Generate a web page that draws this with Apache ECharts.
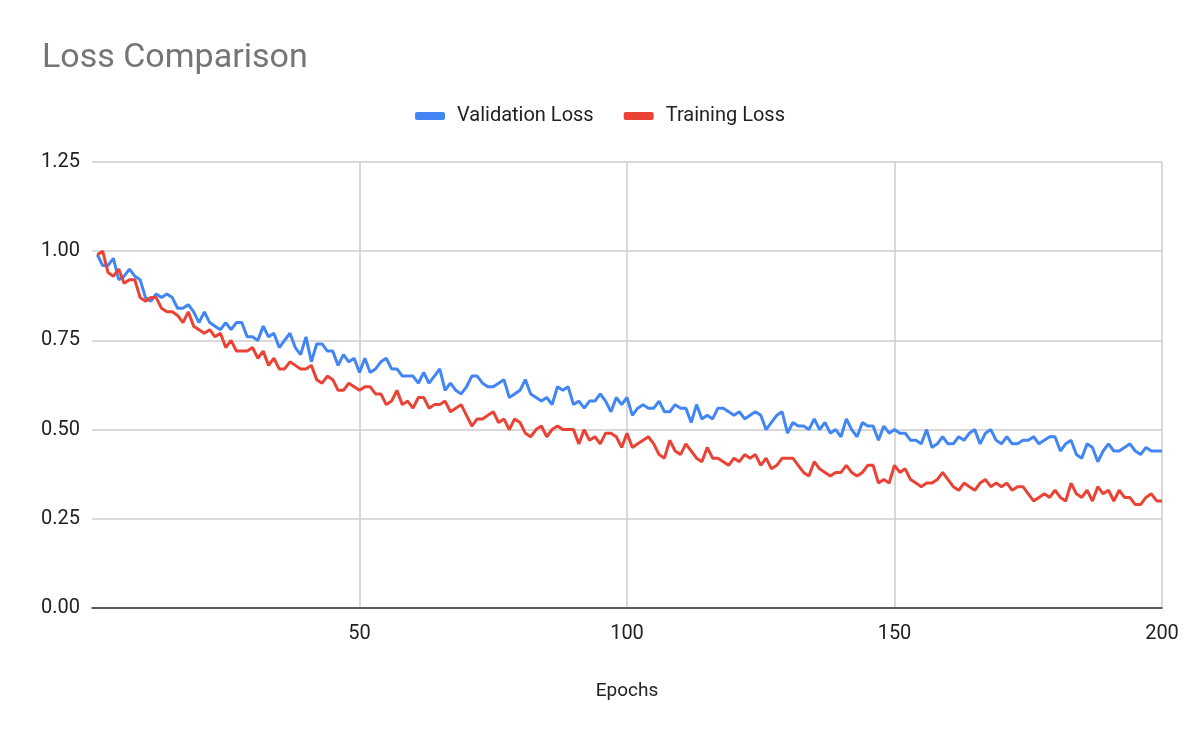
<!DOCTYPE html>
<html>
<head>
<meta charset="utf-8">
<script src="https://cdn.jsdelivr.net/npm/echarts@6/dist/echarts.min.js"></script>
<style>html,body{margin:0;padding:0;background:#fff}#c{width:1200px;height:742px}</style>
</head>
<body>
<div id="c"></div>
<script>
var validation = [
  0.99,0.96,0.96,0.98,0.92,0.93,0.95,0.93,0.92,0.87,
  0.86,0.88,0.87,0.88,0.87,0.84,0.84,0.85,0.83,0.80,
  0.83,0.80,0.79,0.78,0.80,0.78,0.80,0.80,0.76,0.76,
  0.75,0.79,0.76,0.77,0.73,0.75,0.77,0.73,0.71,0.76,
  0.69,0.74,0.74,0.72,0.72,0.68,0.71,0.69,0.70,0.66,
  0.70,0.66,0.67,0.69,0.70,0.67,0.67,0.65,0.65,0.65,
  0.63,0.66,0.63,0.65,0.67,0.61,0.63,0.61,0.60,0.62,
  0.65,0.65,0.63,0.62,0.62,0.63,0.64,0.59,0.60,0.61,
  0.64,0.60,0.59,0.58,0.59,0.57,0.62,0.61,0.62,0.57,
  0.58,0.56,0.58,0.58,0.60,0.58,0.55,0.59,0.57,0.59,
  0.54,0.56,0.57,0.56,0.56,0.58,0.55,0.55,0.57,0.56,
  0.56,0.52,0.57,0.53,0.54,0.53,0.56,0.56,0.55,0.54,
  0.55,0.53,0.54,0.55,0.54,0.50,0.52,0.54,0.55,0.49,
  0.52,0.51,0.51,0.50,0.53,0.50,0.52,0.49,0.50,0.48,
  0.53,0.50,0.48,0.52,0.51,0.51,0.47,0.51,0.49,0.50,
  0.49,0.49,0.47,0.47,0.46,0.50,0.45,0.46,0.48,0.46,
  0.46,0.48,0.47,0.49,0.50,0.46,0.49,0.50,0.47,0.46,
  0.48,0.46,0.46,0.47,0.47,0.48,0.46,0.47,0.48,0.48,
  0.44,0.46,0.47,0.43,0.42,0.46,0.45,0.41,0.44,0.46,
  0.44,0.44,0.45,0.46,0.44,0.43,0.45,0.44,0.44,0.44
];
var training = [
  0.99,1.00,0.94,0.93,0.95,0.91,0.92,0.92,0.87,0.86,
  0.87,0.87,0.84,0.83,0.83,0.82,0.80,0.83,0.79,0.78,
  0.77,0.78,0.76,0.77,0.73,0.75,0.72,0.72,0.72,0.73,
  0.70,0.72,0.68,0.70,0.67,0.67,0.69,0.68,0.67,0.67,
  0.68,0.64,0.63,0.65,0.64,0.61,0.61,0.63,0.62,0.61,
  0.62,0.62,0.60,0.60,0.57,0.58,0.61,0.57,0.58,0.56,
  0.59,0.59,0.56,0.57,0.57,0.58,0.55,0.56,0.57,0.54,
  0.51,0.53,0.53,0.54,0.55,0.52,0.53,0.50,0.53,0.52,
  0.49,0.48,0.50,0.51,0.48,0.50,0.51,0.50,0.50,0.50,
  0.46,0.50,0.47,0.48,0.46,0.49,0.49,0.48,0.45,0.49,
  0.45,0.46,0.47,0.48,0.46,0.43,0.42,0.47,0.44,0.43,
  0.46,0.44,0.42,0.41,0.45,0.42,0.42,0.41,0.40,0.42,
  0.41,0.43,0.42,0.43,0.40,0.42,0.39,0.40,0.42,0.42,
  0.42,0.40,0.38,0.37,0.41,0.39,0.38,0.37,0.38,0.38,
  0.40,0.38,0.37,0.38,0.40,0.40,0.35,0.36,0.35,0.40,
  0.38,0.39,0.36,0.35,0.34,0.35,0.35,0.36,0.38,0.36,
  0.34,0.33,0.35,0.34,0.33,0.35,0.36,0.34,0.35,0.34,
  0.35,0.33,0.34,0.34,0.32,0.30,0.31,0.32,0.31,0.33,
  0.31,0.30,0.35,0.32,0.31,0.33,0.30,0.34,0.32,0.33,
  0.30,0.33,0.31,0.31,0.29,0.29,0.31,0.32,0.30,0.30
];
var seriesNames = ['Validation Loss', 'Training Loss'];

function pairs(arr) {
  return arr.map(function (v, i) { return [i + 1, v]; });
}

var myChart = echarts.init(document.getElementById('c'));
var option = {
  animation: false,
  title: {
    text: 'Loss Comparison',
    left: 37, top: 36,
    textStyle: { color: '#757575', fontSize: 34, fontWeight: 'normal', fontFamily: 'Roboto, Arial' }
  },
  legend: {
    top: 101, left: 'center',
    icon: 'roundRect', itemWidth: 30, itemHeight: 8, itemGap: 30,
    textStyle: { color: '#222', fontSize: 20, fontFamily: 'Roboto, Arial', padding: [0, 0, 0, 7] },
    data: seriesNames
  },
  grid: { left: 92, right: 38, top: 162, bottom: 134 },
  xAxis: {
    type: 'value', min: 0, max: 200, interval: 50,
    name: 'Epochs', nameLocation: 'middle', nameGap: 74,
    nameTextStyle: { color: '#222', fontSize: 19, fontFamily: 'Roboto, Arial' },
    axisLine: { lineStyle: { color: '#333', width: 1.5 } },
    axisTick: { show: false },
    axisLabel: { color: '#222', fontSize: 20, margin: 16, fontFamily: 'Roboto, Arial',
      formatter: function (v) { return v === 0 ? '' : v; } },
    splitLine: { show: true, showMinLine: false, lineStyle: { color: '#ccc', width: 1.5 } }
  },
  yAxis: {
    type: 'value', min: 0, max: 1.25, interval: 0.25,
    axisLine: { show: false },
    axisTick: { show: false },
    axisLabel: { color: '#222', fontSize: 20, margin: 12, fontFamily: 'Roboto, Arial',
      formatter: function (v) { return v.toFixed(2); } },
    splitLine: { lineStyle: { color: '#ccc', width: 1.5 } }
  },
  series: [
    { name: seriesNames[0], type: 'line', data: pairs(validation), showSymbol: false,
      itemStyle: { color: '#4285f4' }, lineStyle: { width: 3, color: '#4285f4' } },
    { name: seriesNames[1], type: 'line', data: pairs(training), showSymbol: false,
      itemStyle: { color: '#ea4335' }, lineStyle: { width: 3, color: '#ea4335' } }
  ]
};
myChart.setOption(option);
</script>
</body>
</html>
